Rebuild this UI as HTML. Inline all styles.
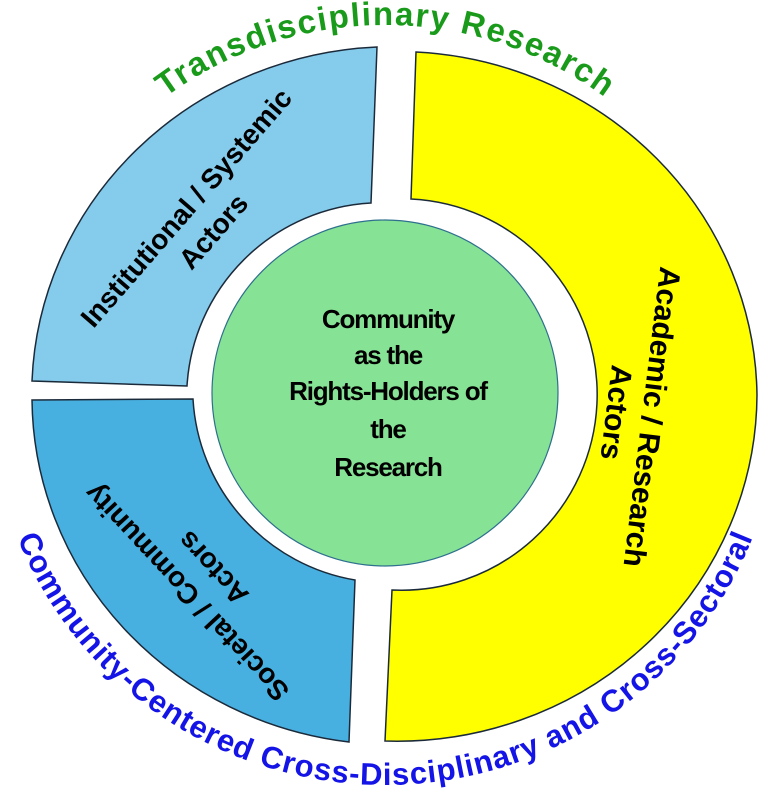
<!DOCTYPE html>
<html><head><meta charset="utf-8"><style>
html,body{margin:0;padding:0;background:#fff;}
svg{display:block;}
text{font-family:"Liberation Sans",sans-serif;}
</style></head><body>
<svg width="771" height="793" viewBox="0 0 771 793">
<defs>
<path id="topArc" d="M 15,395 A 370,370 0 0 1 755,395"/>
<path id="botArc" d="M -10,395 A 395,390 0 0 0 780,395"/>
</defs>
<path d="M32,381 A362,348 0 0 1 377,47 L371,203 A195,195 0 0 0 187,386 Z" fill="#85cbeb" stroke="#1b2a3a" stroke-width="1.5"/>
<path d="M32,400 L193,399 A195,195 0 0 0 355,580 L349,742 A362,348 0 0 1 32,400 Z" fill="#48b0e0" stroke="#1b2a3a" stroke-width="1.5"/>
<path d="M416,52 A360,348 0 0 1 757,395 A360,348 0 0 1 385,741 L392,590 A195,195 0 0 0 411,199 Z" fill="#ffff00" stroke="#1b2a3a" stroke-width="1.5"/>
<circle cx="385" cy="393" r="173" fill="#86e294" stroke="#2e6f8e" stroke-width="1.2"/>

<text font-size="33" font-weight="bold" fill="#1a9a1a" text-anchor="middle"><textPath href="#topArc" startOffset="50%" textLength="470">Transdisciplinary Research</textPath></text>
<text font-size="31" font-weight="bold" fill="#1414e6" text-anchor="middle" letter-spacing="-0.5"><textPath href="#botArc" startOffset="50%" textLength="940">Community-Centered Cross-Disciplinary and Cross-Sectoral</textPath></text>

<g font-size="26" font-weight="bold" fill="#000" text-anchor="middle" letter-spacing="-1.2">
<text x="388" y="328">Community</text>
<text x="388" y="364">as the</text>
<text x="388" y="400">Rights-Holders of</text>
<text x="388" y="438">the</text>
<text x="388" y="476">Research</text>
</g>

<g transform="translate(198,218) rotate(-49)" font-size="28" font-weight="bold" text-anchor="middle" fill="#000">
<text x="0" y="-6">Institutional / Systemic</text>
<text x="0" y="30">Actors</text>
</g>
<g transform="translate(198,582) rotate(-133)" font-size="28" text-anchor="middle" fill="#000" font-weight="bold">
<text x="0" y="-6">Societal / Community</text>
<text x="0" y="30">Actors</text>
</g>
<g transform="translate(636,415) rotate(97)" font-size="30" font-weight="bold" text-anchor="middle" fill="#000">
<text x="0" y="-6">Academic / Research</text>
<text x="0" y="30">Actors</text>
</g>
</svg>
</body></html>
